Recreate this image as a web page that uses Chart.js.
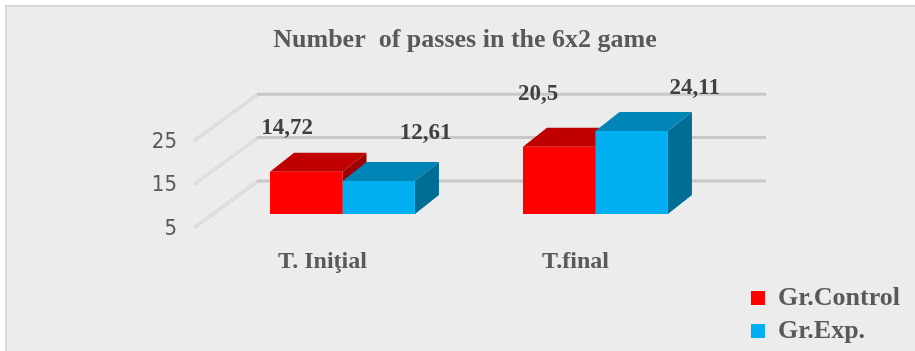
<!DOCTYPE html>
<html>
<head>
<meta charset="utf-8">
<script src="https://cdn.jsdelivr.net/npm/chart.js@4.4.1/dist/chart.umd.min.js"></script>
<style>
  html, body { margin: 0; padding: 0; background: #fff; }
  #frame { position: absolute; left: 5px; top: 5px; width: 908px; height: 344px; background: #ececec; border-left: 2px solid #dadada; border-top: 2px solid #dadada; }
  #passes { position: absolute; left: 0; top: 0; }
</style>
</head>
<body>
<div id="frame"></div>
<canvas id="passes" width="915" height="351"></canvas>
<script>
var categories = ['T. Iniţial', 'T.final'];
var seriesNames = ['Gr.Control', 'Gr.Exp.'];
var controlValues = [14.72, 20.5];
var expValues = [12.61, 24.11];
var yMin = 5, yMax = 25, yStep = 10;

// fake 3d: how far the back of each box is pushed
var DX = 24, DY = -19;
var serif = '"Liberation Serif", "Times New Roman", serif';

function comma(v) {
    return String(v).replace('.', ',');
}

var depthFaces = {
    id: 'depthFaces',
    beforeDatasetsDraw: function (chart) {
        var ctx = chart.ctx;
        var area = chart.chartArea;
        var y = chart.scales.y;
        ctx.save();
        // floor lines running back to the wall, then the wall lines
        y.ticks.forEach(function (t) {
            var py = y.getPixelForValue(t.value);
            ctx.lineCap = 'round';
            ctx.beginPath();
            ctx.moveTo(area.left - 21, py + 13);
            ctx.lineTo(area.left + 42, py - 33);
            ctx.strokeStyle = '#d3d3d3';
            ctx.lineWidth = 3;
            ctx.stroke();
            ctx.strokeStyle = '#f1f1f1';
            ctx.lineWidth = 1;
            ctx.stroke();
            ctx.beginPath();
            ctx.moveTo(area.left + 42, py - 33);
            ctx.lineTo(area.right + 43, py - 33);
            ctx.strokeStyle = '#c8c8c8';
            ctx.lineWidth = 3;
            ctx.stroke();
        });
        // sides and tops, left bar first so the next one covers it
        categories.forEach(function (c, i) {
            chart.data.datasets.forEach(function (ds, d) {
                var bar = chart.getDatasetMeta(d).data[i];
                var l = bar.x - bar.width / 2, r = bar.x + bar.width / 2;
                var top = bar.y, bottom = bar.base;
                ctx.fillStyle = ds.sideColor;
                ctx.beginPath();
                ctx.moveTo(r, bottom);
                ctx.lineTo(r + DX, bottom + DY);
                ctx.lineTo(r + DX, top + DY);
                ctx.lineTo(r, top);
                ctx.closePath();
                ctx.fill();
                ctx.fillStyle = ds.topColor;
                ctx.beginPath();
                ctx.moveTo(l, top);
                ctx.lineTo(r, top);
                ctx.lineTo(r + DX, top + DY);
                ctx.lineTo(l + DX, top + DY);
                ctx.closePath();
                ctx.fill();
            });
        });
        ctx.restore();
    },
    afterDatasetsDraw: function (chart) {
        var ctx = chart.ctx;
        ctx.save();
        ctx.font = 'bold 23px ' + serif;
        ctx.fillStyle = '#404040';
        ctx.textAlign = 'center';
        ctx.textBaseline = 'middle';
        chart.data.datasets.forEach(function (ds, d) {
            chart.getDatasetMeta(d).data.forEach(function (bar, i) {
                var n = ds.labelNudge[i];
                ctx.fillText(comma(ds.data[i]), bar.x + n[0], bar.y + n[1]);
            });
        });
        ctx.restore();
    }
};

var ctx = document.getElementById('passes').getContext('2d');

var graphic = new Chart(ctx, {
    type: 'bar',
    data: {
        labels: categories,
        datasets: [{
            label: seriesNames[0],
            data: controlValues,
            backgroundColor: '#ff0000',
            topColor: '#c00000',
            sideColor: '#9e0000',
            labelNudge: [[-19, -44], [-21, -53]],
            base: yMin
        }, {
            label: seriesNames[1],
            data: expValues,
            backgroundColor: '#00b0f0',
            topColor: '#0085b6',
            sideColor: '#006d94',
            labelNudge: [[47, -48], [63, -43]],
            base: yMin
        }]
    },
    options: {
        responsive: false,
        animation: false,
        layout: { padding: { left: 20, right: 5, top: 10, bottom: 0 } },
        datasets: {
            bar: { categoryPercentage: 0.573, barPercentage: 1, borderWidth: 0 }
        },
        plugins: {
            title: {
                display: true,
                text: 'Number  of passes in the 6x2 game',
                color: '#595959',
                font: { family: serif, size: 26, weight: 'bold' },
                padding: { top: 15, bottom: 71 }
            },
            legend: {
                position: 'right',
                align: 'end',
                maxWidth: 400,
                labels: {
                    boxWidth: 14,
                    boxHeight: 14,
                    padding: 7,
                    color: '#595959',
                    font: { family: serif, size: 26, weight: 'bold' }
                }
            },
            tooltip: { enabled: false }
        },
        scales: {
            x: {
                grid: { display: false, drawTicks: false },
                border: { display: false },
                ticks: {
                    color: '#595959',
                    font: { family: serif, size: 24, weight: 'bold' },
                    padding: 33,
                    labelOffset: -20
                },
                afterFit: function (s) { s.height = 137; }
            },
            y: {
                min: yMin,
                max: yMax,
                grid: { display: false, drawTicks: false },
                border: { display: false },
                ticks: {
                    stepSize: yStep,
                    color: '#595959',
                    font: { family: '"Liberation Sans Narrow", "DejaVu Sans Condensed", sans-serif', size: 22 },
                    padding: 39,
                    labelOffset: 15
                },
                afterFit: function (s) { s.width = 196; }
            },
            y2: {
                position: 'right',
                grid: { display: false, drawTicks: false },
                border: { display: false },
                ticks: { display: false },
                afterFit: function (s) { s.width = 22; }
            }
        }
    },
    plugins: [depthFaces]
});
</script>
</body>
</html>
